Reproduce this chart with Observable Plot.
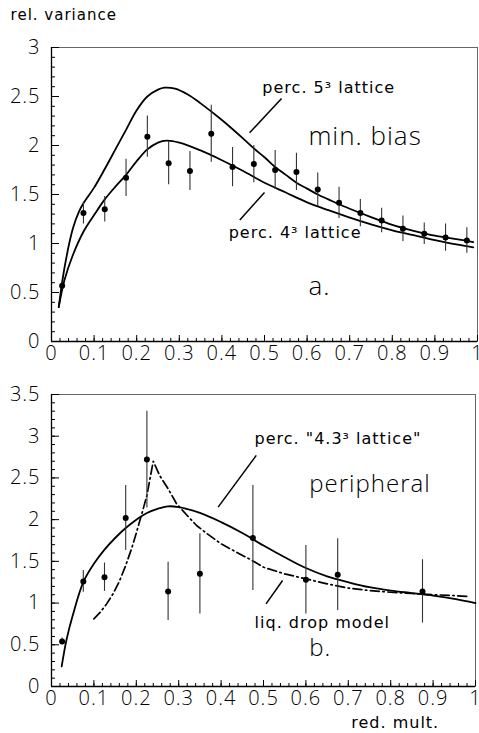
<!DOCTYPE html>
<html><head><meta charset="utf-8">
<script src="https://cdn.jsdelivr.net/npm/d3@7"></script>
<script src="https://cdn.jsdelivr.net/npm/@observablehq/plot@0.6"></script>
<style>
body{margin:0;background:#fff;}
#chart svg{display:block;}
</style></head><body><div id="chart"></div>
<script>
// ---------- tick labels ----------
const xTicks = [0, 0.1, 0.2, 0.3, 0.4, 0.5, 0.6, 0.7, 0.8, 0.9, 1];
const xTickLabels = ["0", "0.1", "0.2", "0.3", "0.4", "0.5", "0.6", "0.7", "0.8", "0.9", "1"];
const yTicksA = [0, 0.5, 1, 1.5, 2, 2.5, 3];
const yTickLabelsA = ["0", "0.5", "1", "1.5", "2", "2.5", "3"];
const yTicksB = [0, 0.5, 1, 1.5, 2, 2.5, 3, 3.5];
const yTickLabelsB = ["0", "0.5", "1", "1.5", "2", "2.5", "3", "3.5"];

// ---------- panel a: min. bias ----------
const aX   = [0.025,0.075,0.125,0.175,0.225,0.275,0.325,0.375,0.425,0.475,0.525,0.575,0.625,0.675,0.725,0.775,0.825,0.875,0.925,0.975];
const aY   = [0.57,1.31,1.35,1.67,2.09,1.82,1.74,2.12,1.78,1.81,1.75,1.73,1.55,1.415,1.31,1.235,1.15,1.10,1.06,1.03];
const aErr = [0.04,0.11,0.13,0.19,0.21,0.22,0.20,0.29,0.20,0.19,0.20,0.19,0.17,0.16,0.14,0.125,0.13,0.11,0.14,0.13];

const perc5X = [0.017,0.03,0.05,0.065,0.075,0.1,0.125,0.15,0.175,0.2,0.225,0.25,0.265,0.29,0.32,0.35,0.4,0.45,0.475,0.5,0.525,0.55,0.575,0.6,0.625,0.65,0.675,0.7,0.75,0.8,0.85,0.9,0.95,0.99];
const perc5Y = [0.35,0.74,1.15,1.33,1.41,1.57,1.76,1.96,2.16,2.36,2.50,2.57,2.59,2.58,2.52,2.43,2.26,2.07,1.97,1.88,1.78,1.70,1.62,1.56,1.50,1.45,1.40,1.355,1.27,1.19,1.13,1.08,1.045,1.015];

const perc4X = [0.017,0.03,0.05,0.075,0.1,0.125,0.15,0.175,0.2,0.225,0.25,0.27,0.3,0.35,0.4,0.45,0.5,0.55,0.6,0.65,0.7,0.75,0.8,0.85,0.9,0.95,0.99];
const perc4Y = [0.35,0.62,0.88,1.12,1.29,1.45,1.58,1.70,1.84,1.96,2.03,2.05,2.03,1.95,1.85,1.74,1.62,1.52,1.42,1.34,1.265,1.195,1.135,1.085,1.035,0.99,0.96];

// ---------- panel b: peripheral ----------
const bX   = [0.025,0.075,0.125,0.175,0.225,0.275,0.35,0.475,0.6,0.675,0.875];
const bY   = [0.54,1.26,1.31,2.02,2.72,1.14,1.35,1.78,1.28,1.34,1.14];
const bErr = [0.04,0.13,0.17,0.39,0.58,0.35,0.48,0.63,0.41,0.43,0.38];

const perc43X = [0.024,0.035,0.05,0.075,0.1,0.125,0.15,0.175,0.2,0.225,0.25,0.275,0.3,0.35,0.4,0.45,0.5,0.55,0.6,0.65,0.7,0.75,0.8,0.85,0.9,0.95,1.0];
const perc43Y = [0.24,0.55,0.85,1.25,1.47,1.64,1.78,1.90,2.00,2.08,2.13,2.16,2.15,2.08,1.97,1.84,1.69,1.55,1.42,1.32,1.25,1.19,1.15,1.12,1.09,1.05,1.0];

const liqX = [0.1,0.115,0.13,0.145,0.16,0.175,0.19,0.2,0.213,0.225,0.24,0.255,0.275,0.295,0.32,0.342,0.37,0.4,0.436,0.47,0.5,0.55,0.6,0.65,0.7,0.75,0.8,0.85,0.9,0.95,0.98];
const liqY = [0.81,0.89,0.99,1.11,1.26,1.45,1.67,1.84,2.07,2.29,2.70,2.53,2.37,2.19,2.05,1.93,1.82,1.71,1.61,1.52,1.43,1.35,1.29,1.23,1.18,1.15,1.13,1.115,1.10,1.09,1.08];

// ---------- annotation layout (data units) ----------
const aNotes  = [
  {text: "perc. 5³ lattice", x: 0.495, y: 2.59},
  {text: "perc. 4³ lattice", x: 0.416, y: 1.105}
];
const aTitles = [
  {text: "min. bias", x: 0.603, y: 2.09},
  {text: "a.", x: 0.603, y: 0.56}
];
const aPointers = [
  {x1: 0.465, y1: 2.13, x2: 0.54, y2: 2.48},
  {x1: 0.442, y1: 1.24, x2: 0.50, y2: 1.52}
];
const bNotes = [
  {text: "perc. \"4.3³ lattice\"", x: 0.479, y: 2.965},
  {text: "liq. drop model", x: 0.479, y: 0.76}
];
const bTitles = [
  {text: "peripheral", x: 0.608, y: 2.42},
  {text: "b.", x: 0.608, y: 0.456}
];
const bPointers = [
  {x1: 0.393, y1: 2.15, x2: 0.483, y2: 2.77},
  {x1: 0.506, y1: 0.99, x2: 0.545, y2: 1.27}
];
const yAxisTitle = [{text: "rel. variance", x: -0.096, y: 3.33}];
const xAxisTitle = [{text: "red. mult.", x: 0.707, y: -0.44}];

// ---------- helpers ----------
const zip = (xs, ys) => xs.map((x, i) => ({x, y: ys[i]}));
const pts = (xs, ys, es) => xs.map((x, i) => ({x, y: ys[i], lo: ys[i] - es[i], hi: ys[i] + es[i]}));
const FONT = "'DejaVu Sans', sans-serif";
const LIGHT = "'Open Sans', 'Lato', 'DejaVu Sans', sans-serif";
const W = 479, ML = 51;

function panel({height, marginTop, marginBottom, marginRight, yDomain, yTicks, yLabels, marks}) {
  const plotH = height - marginTop - marginBottom;
  const plotW = W - ML - marginRight;
  const xMinor = d3.range(0, 1.0001, 0.02);
  const yMinor = d3.range(0, yDomain[1] + 0.0001, 0.1);
  return Plot.plot({
    width: W, height, marginLeft: ML, marginRight, marginTop, marginBottom,
    style: {fontFamily: FONT, fontSize: "17px", background: "white", color: "black", letterSpacing: "1px", overflow: "visible"},
    x: {domain: [0, 1]},
    y: {domain: yDomain},
    marks: [
      Plot.frame({stroke: "#666", strokeWidth: 1}),
      Plot.ruleX([0], {stroke: "#000", strokeWidth: 1.3}),
      Plot.ruleY([0], {stroke: "#000", strokeWidth: 1.3}),
      Plot.tickX(xMinor, {x: d => d, insetTop: plotH - 3, stroke: "#000"}),
      Plot.tickX(xTicks, {x: d => d, insetTop: plotH - 6, stroke: "#000"}),
      Plot.tickY(yMinor, {y: d => d, insetRight: plotW - 4, stroke: "#000"}),
      Plot.tickY(yTicks, {y: d => d, insetRight: plotW - 8, stroke: "#000"}),
      Plot.axisX({ticks: xTicks, tickFormat: (d, i) => xTickLabels[i], tickSize: 0, tickPadding: 4, label: null,
                  fontSize: 20, fontWeight: 300, fontFamily: LIGHT}),
      Plot.axisY({ticks: yTicks, tickFormat: (d, i) => yLabels[i], tickSize: 0, tickPadding: 11, label: null,
                  fontSize: 20, fontWeight: 300, fontFamily: LIGHT}),
      ...marks
    ]
  });
}

const chartA = panel({
  height: 370, marginTop: 47, marginBottom: 29, marginRight: 2,
  yDomain: [0, 3], yTicks: yTicksA, yLabels: yTickLabelsA,
  marks: [
    Plot.line(zip(perc5X, perc5Y), {x: "x", y: "y", curve: "catmull-rom", stroke: "#000", strokeWidth: 1.8}),
    Plot.line(zip(perc4X, perc4Y), {x: "x", y: "y", curve: "catmull-rom", stroke: "#000", strokeWidth: 1.8}),
    Plot.ruleX(pts(aX, aY, aErr), {x: "x", y1: "lo", y2: "hi", stroke: "#333", strokeWidth: 1.1}),
    Plot.dot(pts(aX, aY, aErr), {x: "x", y: "y", r: 3, fill: "#000", stroke: "none"}),
    Plot.link(aPointers, {x1: "x1", y1: "y1", x2: "x2", y2: "y2", stroke: "#000", strokeWidth: 1.5}),
    Plot.text(aNotes, {x: "x", y: "y", text: "text", textAnchor: "start", fontSize: 16, fill: "#000"}),
    Plot.text(aTitles, {x: "x", y: "y", text: "text", textAnchor: "start", fontSize: 26, fontWeight: 300, fontFamily: LIGHT, fill: "#000"}),
    Plot.text(yAxisTitle, {x: "x", y: "y", text: "text", textAnchor: "start", fontSize: 15, fill: "#000"})
  ]
});

const chartB = panel({
  height: 363, marginTop: 24, marginBottom: 47, marginRight: 4,
  yDomain: [0, 3.5], yTicks: yTicksB, yLabels: yTickLabelsB,
  marks: [
    Plot.line(zip(perc43X, perc43Y), {x: "x", y: "y", curve: "catmull-rom", stroke: "#000", strokeWidth: 1.8}),
    Plot.line(zip(liqX, liqY), {x: "x", y: "y", curve: "linear", stroke: "#000", strokeWidth: 1.7, strokeDasharray: "9,3.5,1.5,3.5"}),
    Plot.ruleX(pts(bX, bY, bErr), {x: "x", y1: "lo", y2: "hi", stroke: "#333", strokeWidth: 1.1}),
    Plot.dot(pts(bX, bY, bErr), {x: "x", y: "y", r: 3, fill: "#000", stroke: "none"}),
    Plot.link(bPointers, {x1: "x1", y1: "y1", x2: "x2", y2: "y2", stroke: "#000", strokeWidth: 1.5}),
    Plot.text(bNotes, {x: "x", y: "y", text: "text", textAnchor: "start", fontSize: 16, fill: "#000"}),
    Plot.text(bTitles, {x: "x", y: "y", text: "text", textAnchor: "start", fontSize: 24, fontWeight: 300, fontFamily: LIGHT, fill: "#000"}),
    Plot.text(xAxisTitle, {x: "x", y: "y", text: "text", textAnchor: "start", fontSize: 16, fill: "#000"})
  ]
});

document.getElementById("chart").append(chartA, chartB);
</script></body></html>
